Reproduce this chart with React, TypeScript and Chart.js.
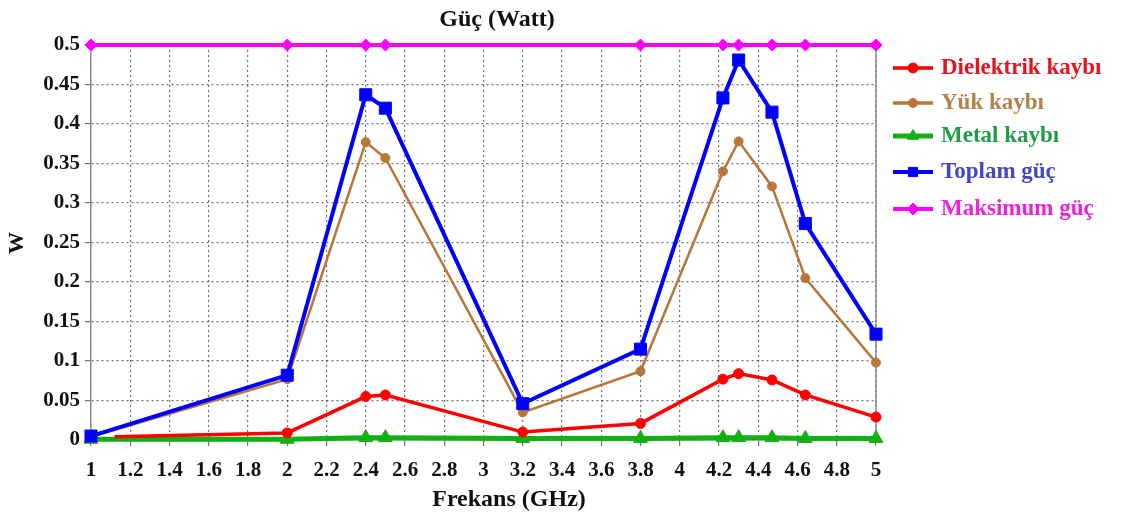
import React, { useEffect, useRef } from 'react';
import { Chart, registerables } from 'chart.js';

Chart.register(...registerables);

// ---------- texts ----------
const chartTitle = 'Güç (Watt)';
const xAxisTitle = 'Frekans (GHz)';
const yAxisTitle = 'W';
const seriesNames = ['Dielektrik kaybı', 'Yük kaybı', 'Metal kaybı', 'Toplam güç', 'Maksimum güç'];

// ---------- ticks ----------
const xTickValues = [1, 1.2, 1.4, 1.6, 1.8, 2, 2.2, 2.4, 2.6, 2.8, 3, 3.2, 3.4, 3.6, 3.8, 4, 4.2, 4.4, 4.6, 4.8, 5];
const xTickLabels = ['1', '1.2', '1.4', '1.6', '1.8', '2', '2.2', '2.4', '2.6', '2.8', '3', '3.2', '3.4', '3.6', '3.8', '4', '4.2', '4.4', '4.6', '4.8', '5'];
const yTickValues = [0, 0.05, 0.1, 0.15, 0.2, 0.25, 0.3, 0.35, 0.4, 0.45, 0.5];
const yTickLabels = ['0', '0.05', '0.1', '0.15', '0.2', '0.25', '0.3', '0.35', '0.4', '0.45', '0.5'];

// ---------- data ----------
const freqGHz = [1, 2, 2.4, 2.5, 3.2, 3.8, 4.22, 4.3, 4.47, 4.64, 5];
const dielektrikFreq = [1.12, 2, 2.4, 2.5, 3.2, 3.8, 4.22, 4.3, 4.47, 4.64, 5];
const dielektrikKaybi = [0.004, 0.009, 0.055, 0.057, 0.01, 0.021, 0.077, 0.084, 0.076, 0.057, 0.029];
const yukKaybi = [0.004, 0.077, 0.377, 0.357, 0.035, 0.087, 0.34, 0.378, 0.321, 0.205, 0.098];
const metalKaybi = [0.001, 0.001, 0.003, 0.003, 0.002, 0.002, 0.003, 0.003, 0.003, 0.002, 0.002];
const toplamGuc = [0.005, 0.082, 0.437, 0.42, 0.046, 0.115, 0.433, 0.481, 0.415, 0.274, 0.134];
const maksimumFreq = [1, 2, 2.4, 2.5, 3.8, 4.22, 4.3, 4.47, 4.64, 5];
const maksimumGuc = [0.5, 0.5, 0.5, 0.5, 0.5, 0.5, 0.5, 0.5, 0.5, 0.5];

// ---------- styles ----------
const FONT = "'Liberation Serif', 'Times New Roman', serif";
const lineColors = ['#ff0000', '#b8763a', '#12b012', '#0000ff', '#ff00ff'];
const legendTextColors = ['#e81420', '#b4804c', '#1f9e48', '#4646c4', '#f020dc'];
const pointStyles = ['circle', 'circle', 'triangle', 'rect', 'rectRot'];
const pointRadii = [5, 4.5, 8, 8.5, 6];
const lineWidths = [3.5, 2.5, 5, 4, 4];

const zip = (xs: number[], ys: number[]) => xs.map((x, i) => ({ x, y: ys[i] }));

function drawMarker(ctx: CanvasRenderingContext2D, style: string, x: number, y: number, r: number, color: string) {
  ctx.save();
  ctx.fillStyle = color;
  ctx.strokeStyle = color;
  ctx.lineWidth = 1;
  ctx.beginPath();
  if (style === 'circle') {
    ctx.arc(x, y, r, 0, Math.PI * 2);
  } else if (style === 'triangle') {
    ctx.moveTo(x, y - r);
    ctx.lineTo(x + r * 0.866, y + r * 0.5);
    ctx.lineTo(x - r * 0.866, y + r * 0.5);
    ctx.closePath();
  } else if (style === 'rect') {
    const s = r * Math.SQRT1_2;
    ctx.rect(x - s, y - s, 2 * s, 2 * s);
  } else {
    ctx.moveTo(x, y - r);
    ctx.lineTo(x + r, y);
    ctx.lineTo(x, y + r);
    ctx.lineTo(x - r, y);
    ctx.closePath();
  }
  ctx.fill();
  ctx.stroke();
  ctx.restore();
}

const decorPlugin = {
  id: 'decor',
  beforeDatasetsDraw(chart: any) {
    const { ctx, chartArea } = chart;
    ctx.save();
    ctx.strokeStyle = '#8a8a8a';
    ctx.lineWidth = 1.5;
    ctx.beginPath();
    ctx.moveTo(chartArea.right, chartArea.top);
    ctx.lineTo(chartArea.right, chartArea.bottom);
    ctx.stroke();
    ctx.restore();
  },
  afterDraw(chart: any) {
    const { ctx } = chart;
    ctx.save();
    ctx.fillStyle = '#111';
    ctx.textAlign = 'center';
    ctx.textBaseline = 'middle';
    ctx.font = `bold 24px ${FONT}`;
    ctx.fillText(chartTitle, 497, 20);
    ctx.fillText(xAxisTitle, 509, 500);
    ctx.save();
    ctx.translate(17, 243);
    ctx.rotate(-Math.PI / 2);
    ctx.font = `bold 22px ${FONT}`;
    ctx.fillText(yAxisTitle, 0, 0);
    ctx.restore();

    // legend
    const rowsY = [68, 103, 136, 172, 209];
    ctx.textAlign = 'left';
    ctx.font = `bold 23px ${FONT}`;
    seriesNames.forEach((name, i) => {
      const y = rowsY[i];
      ctx.strokeStyle = lineColors[i];
      ctx.lineWidth = Math.max(lineWidths[i], 3.5);
      ctx.beginPath();
      ctx.moveTo(893, y);
      ctx.lineTo(933, y);
      ctx.stroke();
      drawMarker(ctx, pointStyles[i], 913, y, Math.min(pointRadii[i], 6.5), lineColors[i]);
      ctx.fillStyle = legendTextColors[i];
      ctx.fillText(name, 941, y);
    });
    ctx.restore();
  },
};

export default function App() {
  const canvasRef = useRef<HTMLCanvasElement | null>(null);

  useEffect(() => {
    if (!canvasRef.current) return;
    const mk = (i: number, data: any[], order: number, extra: any = {}) => ({
      label: seriesNames[i],
      data,
      borderColor: lineColors[i],
      backgroundColor: lineColors[i],
      pointBackgroundColor: lineColors[i],
      pointBorderColor: lineColors[i],
      borderWidth: lineWidths[i],
      pointStyle: pointStyles[i],
      pointRadius: pointRadii[i],
      pointBorderWidth: 1,
      tension: 0,
      fill: false,
      clip: false,
      order,
      ...extra,
    });

    const chart = new Chart(canvasRef.current, {
      type: 'line',
      data: {
        datasets: [
          mk(0, zip(dielektrikFreq, dielektrikKaybi), 3, {
            pointRadius: (c: any) => (c.dataIndex === 0 ? 0 : pointRadii[0]),
          }),
          mk(1, zip(freqGHz, yukKaybi), 2),
          mk(2, zip(freqGHz, metalKaybi), 4),
          mk(3, zip(freqGHz, toplamGuc), 1),
          mk(4, zip(maksimumFreq, maksimumGuc), 0),
        ],
      },
      options: {
        animation: false,
        responsive: true,
        maintainAspectRatio: false,
        layout: { padding: { top: 45, right: 246, left: 0, bottom: 0 } },
        plugins: {
          legend: { display: false },
          title: { display: false },
          tooltip: { enabled: false },
        },
        scales: {
          x: {
            type: 'linear',
            min: 1,
            max: 5,
            afterBuildTicks: (scale: any) => {
              scale.ticks = xTickValues.map((v) => ({ value: v }));
            },
            afterFit: (scale: any) => {
              scale.height = 77;
            },
            ticks: {
              autoSkip: false,
              maxRotation: 0,
              padding: 12,
              color: '#111',
              font: { family: FONT, size: 21, weight: 'bold' },
              callback: (_v: any, i: number) => xTickLabels[i],
            },
            grid: {
              color: 'rgba(0,0,0,0.55)',
              lineWidth: 1.2,
              tickLength: 6,
              tickColor: 'rgba(0,0,0,0.55)',
            },
            border: { display: true, color: '#8a8a8a', width: 1.5, dash: [2, 3] },
          },
          y: {
            type: 'linear',
            min: 0,
            max: 0.5,
            afterBuildTicks: (scale: any) => {
              scale.ticks = yTickValues.map((v) => ({ value: v }));
            },
            afterFit: (scale: any) => {
              scale.width = 91;
            },
            ticks: {
              autoSkip: false,
              padding: 5,
              color: '#111',
              font: { family: FONT, size: 21, weight: 'bold' },
              callback: (_v: any, i: number) => yTickLabels[i],
            },
            grid: {
              color: 'rgba(0,0,0,0.55)',
              lineWidth: 1.2,
              tickLength: 6,
              tickColor: 'rgba(0,0,0,0.55)',
            },
            border: { display: true, color: '#8a8a8a', width: 1.5, dash: [2, 3] },
          },
        },
      } as any,
      plugins: [decorPlugin],
    });
    return () => chart.destroy();
  }, []);

  return (
    <div style={{ position: 'fixed', left: 0, top: 0, width: '1122px', height: '517px', background: '#fff' }}>
      <canvas ref={canvasRef} />
    </div>
  );
}
